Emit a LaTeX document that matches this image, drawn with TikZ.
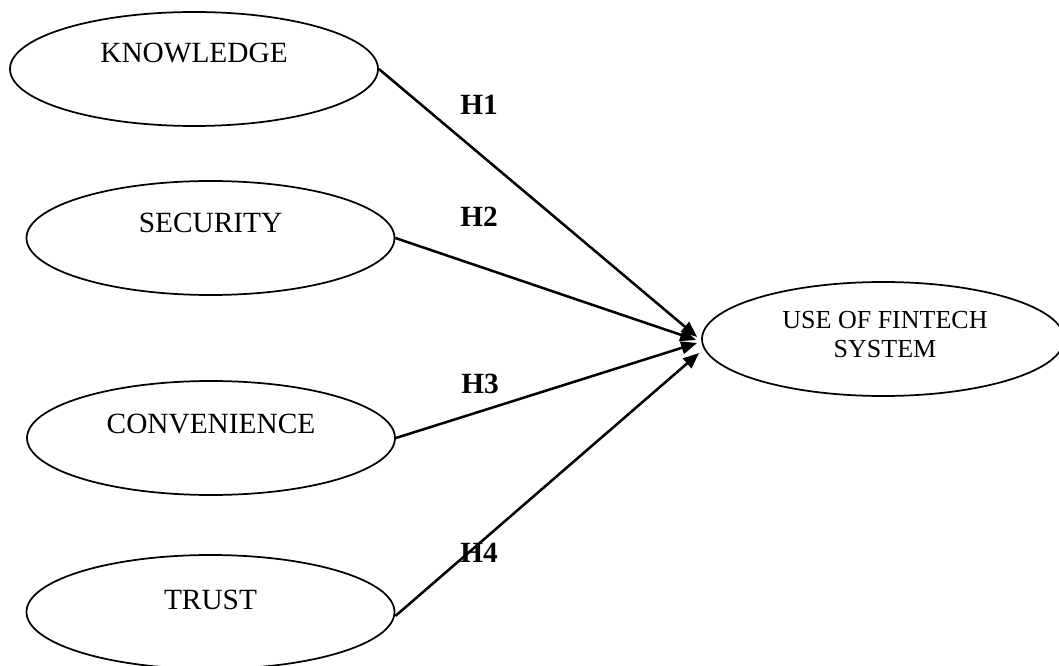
\documentclass[tikz,border=0pt]{standalone}
\usepackage{fontspec}
\setmainfont{Liberation Serif}
\usetikzlibrary{arrows.meta,calc,shapes.geometric}
\begin{document}
\begin{tikzpicture}[x=0.75pt,y=-0.75pt,
  construct/.style={draw, ellipse, line width=1.3pt, inner sep=0pt,
    minimum width=276pt, minimum height=85.5pt},
  outcome/.style={construct, minimum width=271.5pt},
  conname/.style={anchor=base, inner sep=0pt, font=\fontsize{22}{26}\selectfont},
  outname/.style={anchor=north, inner sep=0pt, align=center,
    font=\fontsize{19.5}{22}\selectfont},
  hypname/.style={anchor=base west, inner sep=0pt, font=\fontsize{22}{26}\selectfont\bfseries},
  hyp/.style={line width=1.9pt, -{Triangle[length=12pt, width=9.5pt]}}]
\useasboundingbox (0,0) rectangle (1059,666);

% independent constructs
\node[construct] (know) at (194,69)    {};
\node[construct] (secu) at (210.5,238) {};
\node[construct] (conv) at (211,438)   {};
\node[construct] (trus) at (210.5,612) {};
\node[conname] (knowt) at ([yshift=4.5pt]know.center) {KNOWLEDGE};
\node[conname] (secut) at ([yshift=3.75pt]secu.center) {SECURITY};
\node[conname] (convt) at ([yshift=3.75pt]conv.center) {CONVENIENCE};
\node[conname] (trust) at ([yshift=2pt]trus.center) {TRUST};

% dependent construct
\node[outcome] (fint) at (883,339) {};
\node[outname] (fintt) at (885,311) {USE OF FINTECH\\SYSTEM};

% arrow tips gathered at the left of the outcome
\coordinate (tk) at ($(fint.west)+(-4,-2)$);
\coordinate (ts) at ($(fint.west)+(-5,1)$);
\coordinate (tc) at ($(fint.west)+(-4,4)$);
\coordinate (tt) at ($(fint.west)+(-2,14)$);

% hypothesised paths
\draw[hyp] (know.east) -- (tk);
\draw[hyp] (secu.east) -- (ts);
\draw[hyp] (conv.east) -- (tc);
\draw[hyp] ([yshift=-3pt]trus.east) -- (tt);

\node[hypname] (h1) at (460,115) {H1};
\node[hypname] (h2) at (460,227) {H2};
\node[hypname] (h3) at (461,393) {H3};
\node[hypname] (h4) at (460,562) {H4};
\end{tikzpicture}
\end{document}
